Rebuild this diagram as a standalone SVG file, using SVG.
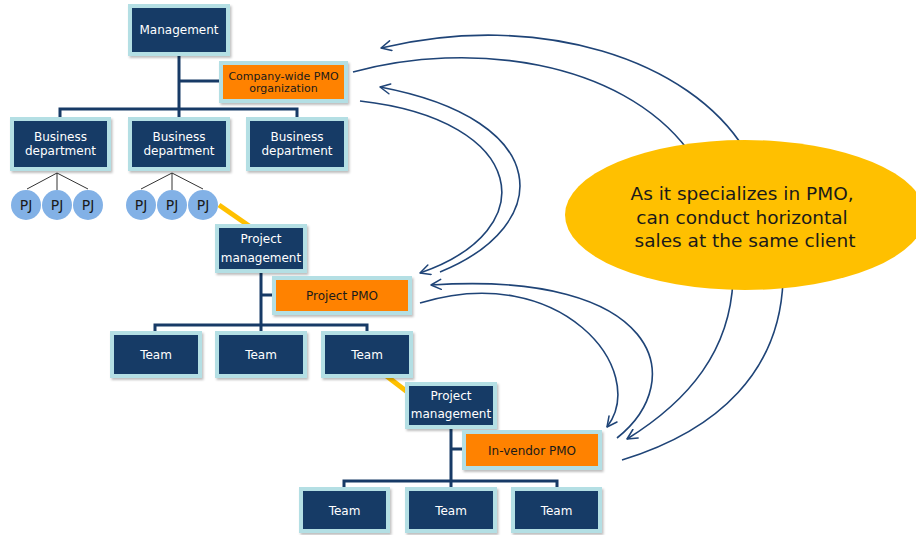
<svg xmlns="http://www.w3.org/2000/svg" width="916" height="535" viewBox="0 0 916 535">
<defs>
<filter id="sh" x="-10%" y="-10%" width="130%" height="130%">
<feDropShadow dx="1.5" dy="2" stdDeviation="1.2" flood-color="#000" flood-opacity="0.25"/>
</filter>
<marker id="ah" viewBox="0 0 12 12" refX="11" refY="6" markerWidth="12" markerHeight="12" markerUnits="userSpaceOnUse" orient="auto">
<path d="M1,1 L11,6 L1,11" fill="none" stroke="#1f4477" stroke-width="1.5" stroke-linecap="round" stroke-linejoin="round"/>
</marker>
<style>
.box{fill:#173a66;stroke:#b4dfe4;stroke-width:4;filter:url(#sh)}
.pmo{fill:#ff8200;stroke:#b4dfe4;stroke-width:4;filter:url(#sh)}
.wt{fill:#ffffff;font-family:"DejaVu Sans",sans-serif;font-size:12px;text-anchor:middle}
.dt{fill:#1a1a1a;font-family:"DejaVu Sans",sans-serif;font-size:12px;text-anchor:middle}
.pjt{fill:#1a1a1a;font-family:"DejaVu Sans",sans-serif;font-size:14px;text-anchor:middle}
.tree{stroke:#173a66;stroke-width:3;fill:none}
.thin{stroke:#333;stroke-width:1;fill:none}
.yl{stroke:#ffc000;stroke-width:5;fill:none}
.arc{stroke:#1f4477;stroke-width:1.6;fill:none}
.pj{fill:#82b1e6}
</style>
</defs>
<rect width="916" height="535" fill="#ffffff"/>

<g id="connectors">
<path class="tree" d="M179,56 V109 M179,81 H221 M60,118 V109 H297 V118 M179,109 V118"/>
<path class="tree" d="M261,271 V325 M261,295 H274 M155,332 V325 H367 V332 M261,325 V332"/>
<path class="tree" d="M451,427 V481 M451,449 H464 M344,488 V481 H557 V488 M451,481 V488"/>
<path class="thin" d="M57,173 L27,189 M57,173 V190 M57,173 L88,189"/>
<path class="thin" d="M172,173 L141,189 M172,173 V190 M172,173 L203,189"/>
<path class="yl" d="M219,205 L255,230"/>
<path class="yl" d="M380,371 L410,394"/>
<path class="arc" marker-end="url(#ah)" d="M745,150 C690,60 540,10 381,48"/>
<path class="arc" d="M353,72 C470,40 620,60 688,150"/>
<path class="arc" marker-end="url(#ah)" d="M440,272 C555,225 555,120 380,87"/>
<path class="arc" marker-end="url(#ah)" d="M360,101 C528,120 545,230 420,273"/>
<path class="arc" marker-end="url(#ah)" d="M617,438 C690,380 660,270 431,285"/>
<path class="arc" marker-end="url(#ah)" d="M420,303 C560,260 650,370 607,427"/>
<path class="arc" marker-end="url(#ah)" d="M733,280 C730,350 690,400 627,439"/>
<path class="arc" d="M783,280 C780,370 720,430 622,460"/>
</g>

<g id="ellipse">
<ellipse cx="745" cy="215" rx="180" ry="75" fill="#ffc000"/>
<text font-family="DejaVu Sans, sans-serif" font-size="18.5" fill="#1a1a1a" text-anchor="middle">
<tspan x="745" y="200">As it specializes in PMO,</tspan>
<tspan x="745" y="223.5">can conduct horizontal</tspan>
<tspan x="745" y="247">sales at the same client</tspan>
</text>
</g>

<g id="management"><rect class="box" x="130" y="6" width="98" height="48"/><text class="wt" x="179" y="34">Management</text></g>
<g id="company-pmo"><rect class="pmo" x="221" y="63" width="125" height="38"/><text class="dt" style="font-size:11px" x="283.5" y="80">Company-wide PMO</text><text class="dt" style="font-size:11px" x="283.5" y="92">organization</text></g>
<g id="dept1"><rect class="box" x="12" y="119" width="97" height="50"/><text class="wt" x="60.5" y="141">Business</text><text class="wt" x="60.5" y="155">department</text></g>
<g id="dept2"><rect class="box" x="130" y="119" width="98" height="50"/><text class="wt" x="179" y="141">Business</text><text class="wt" x="179" y="155">department</text></g>
<g id="dept3"><rect class="box" x="248" y="119" width="98" height="50"/><text class="wt" x="297" y="141">Business</text><text class="wt" x="297" y="155">department</text></g>

<g id="pj1"><circle class="pj" cx="26" cy="205" r="15"/><text class="pjt" x="26" y="210">PJ</text></g>
<g id="pj2"><circle class="pj" cx="57" cy="205" r="15"/><text class="pjt" x="57" y="210">PJ</text></g>
<g id="pj3"><circle class="pj" cx="88" cy="205" r="15"/><text class="pjt" x="88" y="210">PJ</text></g>
<g id="pj4"><circle class="pj" cx="141" cy="205" r="15"/><text class="pjt" x="141" y="210">PJ</text></g>
<g id="pj5"><circle class="pj" cx="172" cy="205" r="15"/><text class="pjt" x="172" y="210">PJ</text></g>
<g id="pj6"><circle class="pj" cx="203" cy="205" r="15"/><text class="pjt" x="203" y="210">PJ</text></g>

<g id="pm1"><rect class="box" x="217" y="226" width="88" height="45"/><text class="wt" x="261" y="242.5">Project</text><text class="wt" x="261" y="261.5">management</text></g>
<g id="project-pmo"><rect class="pmo" x="274" y="278" width="136" height="35"/><text class="dt" x="342" y="299.5">Project PMO</text></g>
<g id="team1"><rect class="box" x="112" y="333" width="88" height="43"/><text class="wt" x="156" y="358.5">Team</text></g>
<g id="team2"><rect class="box" x="217" y="333" width="88" height="43"/><text class="wt" x="261" y="358.5">Team</text></g>
<g id="team3"><rect class="box" x="323" y="333" width="88" height="43"/><text class="wt" x="367" y="358.5">Team</text></g>

<g id="pm2"><rect class="box" x="407" y="384" width="88" height="43"/><text class="wt" x="451" y="399.5">Project</text><text class="wt" x="451" y="417.5">management</text></g>
<g id="invendor-pmo"><rect class="pmo" x="464" y="432" width="136" height="36"/><text class="dt" x="532" y="454.5">In-vendor PMO</text></g>
<g id="team4"><rect class="box" x="301" y="489" width="87" height="42"/><text class="wt" x="344.5" y="515">Team</text></g>
<g id="team5"><rect class="box" x="407" y="489" width="88" height="42"/><text class="wt" x="451" y="515">Team</text></g>
<g id="team6"><rect class="box" x="513" y="489" width="87" height="42"/><text class="wt" x="556.5" y="515">Team</text></g>
</svg>
